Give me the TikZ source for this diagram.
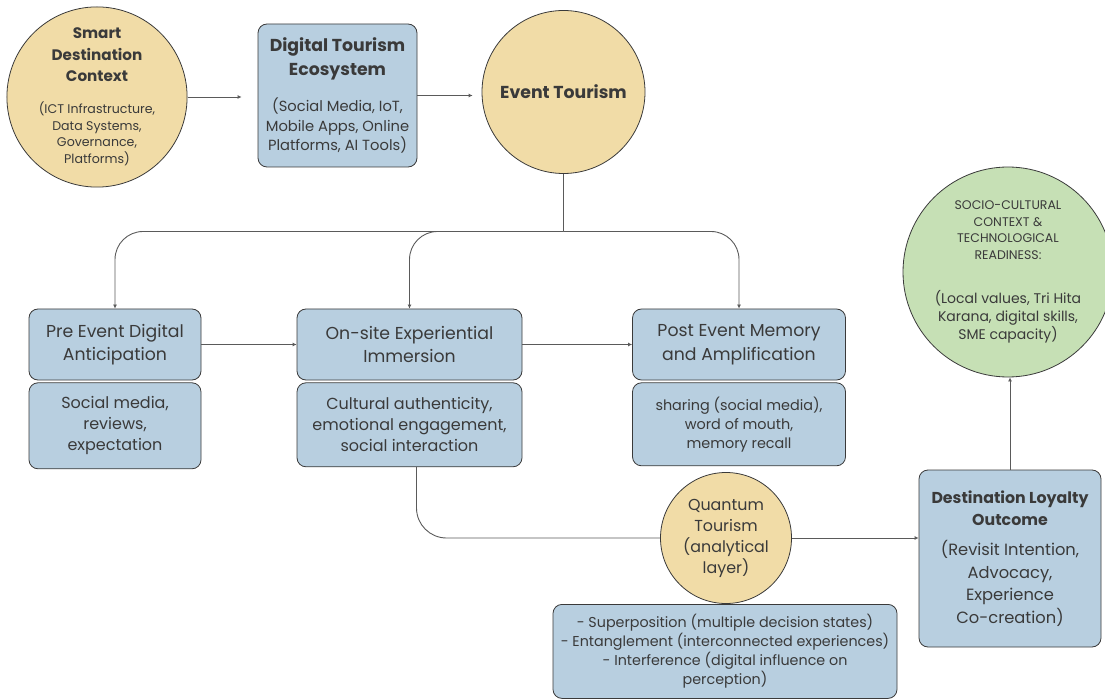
\documentclass[tikz,border=0pt]{standalone}
\usepackage{fontspec}
\setmainfont{Poppins}
\usetikzlibrary{arrows.meta, positioning}
\definecolor{boxblue}{HTML}{B8CFE0}
\definecolor{circyellow}{HTML}{F1DCA7}
\definecolor{circgreen}{HTML}{C6E0B5}
\definecolor{inkgray}{HTML}{3A3A3A}
\definecolor{linegray}{HTML}{5A5A5A}

% font switches, repeated on every line of a node
\newcommand{\hb}[1]{\fontsize{#1}{#1}\selectfont\bfseries}
\newcommand{\fs}[2]{\fontsize{#1}{#2}\selectfont}

\tikzset{
  bluebox/.style={draw=inkgray, fill=boxblue, line width=0.8pt, rounded corners=9pt,
    align=center, text=inkgray, inner sep=0pt},
  yellowcirc/.style={circle, draw=inkgray, fill=circyellow, line width=0.8pt,
    align=center, text=inkgray, inner sep=0pt},
  greencirc/.style={circle, draw=inkgray, fill=circgreen, line width=0.8pt,
    align=center, text=inkgray, inner sep=0pt},
  link/.style={draw=linegray, line width=0.9pt},
  arr/.style={link, -{Latex[length=4pt,width=4pt]}},
}

\begin{document}
\begin{tikzpicture}[x=1pt, y=-1pt]
        \useasboundingbox (0,0) rectangle (1105,700);
        % Top row
        \node[yellowcirc, minimum size=176pt, font=\fs{12.6}{16.7}] (smart) at (97,97)
          {\hb{15.2}Smart\\[4.8pt]\hb{15.2}Destination\\[4.8pt]\hb{15.2}Context\\[15pt]
           (ICT Infrastructure,\\Data Systems,\\Governance,\\Platforms)};
        \node[bluebox, minimum width=159pt, minimum height=143pt, font=\fs{14.7}{19.5}] (digital) at (337.5,95.5)
          {\hb{17.3}Digital Tourism\\[4.5pt]\hb{17.3}Ecosystem\\[16.5pt]
           (Social Media, IoT,\\Mobile Apps, Online\\Platforms, AI Tools)};
        \node[yellowcirc, minimum size=163pt, font=\hb{17.3}] (event) at (563.5,92)
          {Event Tourism};
        \draw[arr, shorten >=16pt] (smart) -- (digital.west |- smart);
        \draw[arr, shorten >=9pt] (digital) -- (event.west |- digital);

        % Event stages
        \node[bluebox, minimum width=172pt, minimum height=71pt, font=\fs{17.3}{23.5}] (pre) at (115,344.5)
          {Pre Event Digital\\Anticipation};
        \node[bluebox, minimum width=172pt, minimum height=86pt, below=2pt of pre, font=\fs{16}{21}] (predet)
          {Social media,\\reviews,\\expectation};
        \node[bluebox, minimum width=225pt, minimum height=71pt, font=\fs{17.3}{23.5}] (onsite) at (409.5,344.5)
          {On-site Experiential\\Immersion};
        \node[bluebox, minimum width=225pt, minimum height=84pt, below=2pt of onsite, font=\fs{16}{21}] (onsitedet)
          {Cultural authenticity,\\emotional engagement,\\social interaction};
        \node[bluebox, minimum width=213pt, minimum height=71pt, font=\fs{17.3}{23.5}] (post) at (739,344.5)
          {Post Event Memory\\and Amplification};
        \node[bluebox, minimum width=213pt, minimum height=83pt, below=2pt of post, font=\fs{14.4}{19}] (postdet)
          {sharing (social media),\\word of mouth,\\memory recall};

        % Branches from event tourism
        \coordinate (fork) at (563.5,231.5);
        \draw[link] (event) -- (fork);
        \draw[arr, rounded corners=28pt] (fork) -| (pre);
        \draw[arr, rounded corners=28pt] (fork) -| (onsite);
        \draw[arr, rounded corners=28pt] (fork) -| (post);
        \draw[arr] (pre) -- (onsite);
        \draw[arr] (onsite) -- (post);

        % Quantum layer and outcome
        \node[yellowcirc, minimum size=131pt, font=\fs{15.9}{21}] (quantum) at (726,538)
          {Quantum\\Tourism\\(analytical\\layer)};
        \node[bluebox, minimum width=344pt, minimum height=94pt, anchor=north, font=\fs{14.3}{19}] (quantdet) at (725,604)
          {- Superposition (multiple decision states)\\
           - Entanglement (interconnected experiences)\\
           - Interference (digital influence on\\perception)};
        \node[bluebox, minimum width=182pt, minimum height=177pt, font=\fs{16.3}{22.5}] (dest) at (1010,558.5)
          {\hb{15.8}Destination Loyalty\\[-0.5pt]\hb{15.8}Outcome\\[7.5pt]
           (Revisit Intention,\\Advocacy,\\Experience\\Co-creation)};
        \node[greencirc, minimum size=210pt, font=\fs{14}{18}] (socio) at (1008,272)
          {\fs{12.5}{15}SOCIO-CULTURAL\\[-1.5pt]\fs{12.5}{15}CONTEXT \&\\[-1.5pt]
           \fs{12.5}{15}TECHNOLOGICAL\\[-1.5pt]\fs{12.5}{15}READINESS:\\[26pt]
           (Local values, Tri Hita\\Karana, digital skills,\\SME capacity)};
        \draw[link, rounded corners=30pt] ([xshift=7pt]onsitedet.south) |- (quantum.west);
        \draw[arr] (quantum.east) -- (dest.west |- quantum.east);
        \draw[arr] (dest.north) -- (dest.north |- socio.south);
\end{tikzpicture}
\end{document}
